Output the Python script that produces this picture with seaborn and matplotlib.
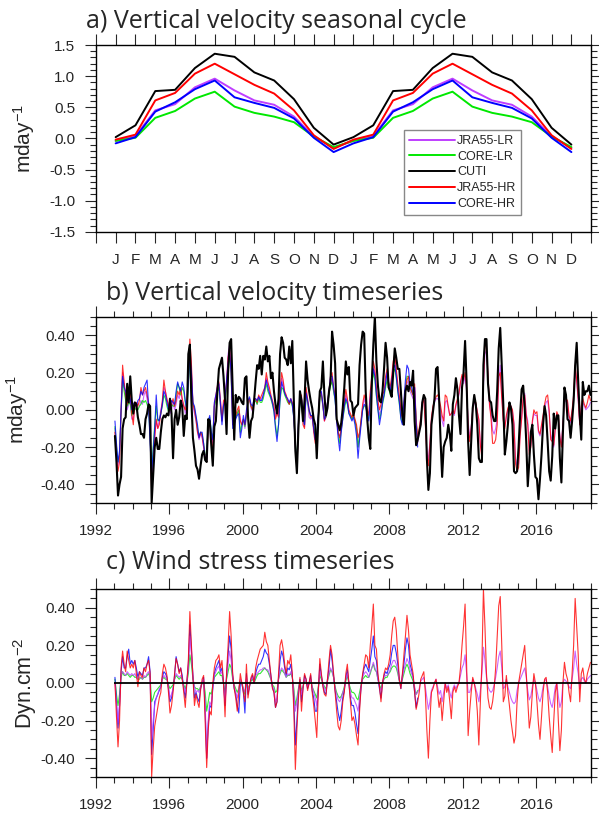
import numpy as np
import pandas as pd
import matplotlib
matplotlib.use("Agg")
import matplotlib.pyplot as plt
import seaborn as sns
from matplotlib.ticker import MultipleLocator, FixedLocator, FormatStrFormatter

# ------------------------------------------------------------------------------
# Style
# ------------------------------------------------------------------------------
sns.set_style("ticks")
plt.rcParams['font.family'] = ['Liberation Sans', 'DejaVu Sans']
plt.rcParams.update({
    'mathtext.fontset': 'custom',
    'mathtext.rm': 'Liberation Sans',
    'mathtext.it': 'Liberation Sans:italic',
    'mathtext.bf': 'Liberation Sans:bold',
    'xtick.direction': 'out', 'ytick.direction': 'out',
    'xtick.top': True, 'ytick.right': True,
    'xtick.major.size': 8, 'ytick.major.size': 8,
    'xtick.minor.size': 4, 'ytick.minor.size': 4,
    'xtick.major.width': 0.8, 'ytick.major.width': 0.8,
    'xtick.minor.width': 0.8, 'ytick.minor.width': 0.8,
    'xtick.major.pad': 7, 'ytick.major.pad': 7,
    'axes.linewidth': 1.0,
    'xtick.labelsize': 11, 'ytick.labelsize': 11,
})

# ------------------------------------------------------------------------------
# Data: a) seasonal cycle of vertical velocity (m/day), Jan..Dec
# ------------------------------------------------------------------------------
months = ['J', 'F', 'M', 'A', 'M', 'J', 'J', 'A', 'S', 'O', 'N', 'D']
clim_jra55_lr = [-0.04, 0.04, 0.45, 0.55, 0.82, 0.96, 0.77, 0.61, 0.54, 0.35, 0.03, -0.15]
clim_core_lr = [-0.04, 0.01, 0.33, 0.44, 0.64, 0.75, 0.51, 0.41, 0.35, 0.26, 0.03, -0.14]
clim_cuti = [0.02, 0.21, 0.76, 0.78, 1.13, 1.36, 1.31, 1.06, 0.93, 0.63, 0.17, -0.10]
clim_jra55_hr = [-0.02, 0.06, 0.61, 0.73, 1.04, 1.20, 1.03, 0.86, 0.72, 0.45, 0.05, -0.17]
clim_core_hr = [-0.08, 0.02, 0.43, 0.58, 0.79, 0.93, 0.66, 0.57, 0.49, 0.32, 0.01, -0.22]

# ------------------------------------------------------------------------------
# Data: b) monthly vertical velocity anomalies, Jan 1993 - Dec 2018
# (values in hundredths of m/day, one row per year; CORE runs stop mid-2009)
# ------------------------------------------------------------------------------
cuti_w = [
    -14, -28, -46, -40, -36, -10, -5, -4, 14, 4, 18, 5,  # 1993
    -2, 4, 3, -4, -8, -13, -13, -15, -5, -2, 3, 2,  # 1994
    -50, -35, -20, -15, -21, -21, -12, -5, -3, -4, -2, -3,  # 1995
    6, -2, -26, -5, 0, -8, -4, 5, 2, -14, -3, -5,  # 1996
    30, 35, 5, -15, -22, -30, -32, -37, -30, -24, -22, -27,  # 1997
    -28, -5, -6, -19, -30, -9, -6, 10, 22, 25, 28, 18,  # 1998
    5, -13, 20, 36, 38, 10, -16, 8, 4, 7, 6, 4,  # 1999
    3, 17, 18, -3, -15, -6, -4, 5, 15, 24, 22, 29,  # 2000
    19, 29, 27, 34, 26, 29, 17, 20, 10, 3, -2, 6,  # 2001
    30, 39, 36, 28, 27, 24, 34, 25, 37, 5, -22, -34,  # 2002
    -10, 10, 5, -6, 5, 26, 16, 10, 5, 1, -5, -8,  # 2003
    -26, -5, 10, 12, 26, 8, -3, 1, 10, 15, 42, 35,  # 2004
    25, -5, -8, -11, -7, 1, 12, 26, 19, 23, 5, 4,  # 2005
    -3, 1, 2, 3, 24, 35, 42, 41, 10, -5, -15, -21,  # 2006
    15, 35, 50, 26, 13, 5, 4, 10, 22, 36, 28, 12,  # 2007
    10, 7, 20, 33, 28, 22, 22, 10, -3, -8, 10, 13,  # 2008
    10, 15, 13, 21, -6, -19, -16, -12, -8, 4, 8, 6,  # 2009
    -26, -43, -34, -8, -1, 6, 22, 23, 6, -17, -36, -20,  # 2010
    -17, -15, -8, -13, -22, 3, 8, 17, 11, -3, -13, 12,  # 2011
    20, 37, 15, -17, -35, -17, 1, 8, 3, -8, -26, -28,  # 2012
    -28, 24, 38, 38, 14, 5, 4, -3, -6, -6, 10, 33,  # 2013
    44, 24, 3, -24, -17, -8, 4, 1, -8, -33, -34, -33,  # 2014
    -20, -3, 11, 13, 1, -17, -41, -28, -12, -8, -24, -36,  # 2015
    -37, -48, -37, -24, -8, 2, -3, -17, -33, -38, -25, -2,  # 2016
    -10, -3, -3, -26, -39, -12, 12, 8, -5, -6, -15, -6,  # 2017
    5, 24, 36, 15, -3, -16, 15, 8, 10, 10, 13, 8,  # 2018
]
jra55_hr_w = [
    -12, -25, -33, -28, 0, 24, 15, 8, 3, 6, 10, -2,
    -8, 3, 4, 2, 5, 12, 8, 10, 12, 8, 4, -10,
    -45, -30, -15, -5, -10, -8, -2, 5, 16, 10, 6, 2,
    0, 3, 6, 2, 5, 10, 8, 12, 6, 2, 0, 4,
    20, 38, 25, 3, 0, -5, -12, -15, -12, -14, -20, -25,
    -28, -10, -5, -18, -20, 3, 8, 13, 15, 5, -6, 5,
    6, 15, 28, 33, 20, -8, -5, -3, 0, 2, -6, -8,
    -5, -8, -2, 4, 6, 2, 0, 5, 6, 4, 8, 6,
    8, 10, 12, 20, 15, 12, 8, 5, 2, -5, -2, -4,
    10, 20, 16, 10, 8, 5, 3, 6, 4, -3, -20, -32,
    -8, 6, 8, -8, -10, 12, 6, 0, -4, -3, -12, -18,
    -16, -5, 10, 9, 3, -6, -3, 4, 10, 18, 20, 12,
    8, -5, -12, -15, -10, -3, 4, 11, 6, 0, -2, -4,
    -2, -5, -8, -15, -12, -5, 3, 8, 5, 0, -3, 10,
    18, 26, 22, 12, 5, 0, 3, 8, 10, 18, 22, 15,
    12, 18, 26, 30, 22, 14, 8, 0, -4, 4, 12, 16,
    18, 12, 10, 8, 14, -5, -15, -10, -4, 3, 6, -8,
    -24, -30, -18, -4, 2, 5, 7, 8, 6, 2, -3, -6,
    8, 7, 2, -3, -2, 0, -2, 3, 6, 9, 15, 19,
    16, 20, 12, -8, -17, -10, 0, 5, 4, -1, -5, -19,
    -26, 15, 35, 34, 18, 3, -5, -18, -18, -16, -8, 18,
    20, 6, -6, -10, -3, 1, 3, 2, 0, -8, -29, -33,
    -31, -14, -5, 7, 8, -3, -8, -24, -20, -6, 0, -2,
    -1, -11, -13, -8, -3, 3, 7, 8, 0, -16, -17, -19,
    -10, -1, -3, -15, -20, -8, 5, 6, 5, -3, -6, 0,
    8, 24, 16, 6, -8, 2, 6, 3, 1, 4, 8, 5,
]
jra55_lr_w = [
    -10, -22, -30, -25, -2, 20, 14, 6, 0, 3, 5, -5,
    -5, 2, 3, 0, 2, 5, 3, 8, 10, 6, 0, -12,
    -40, -28, -14, -6, -10, -5, 0, 4, 12, 10, 5, 3,
    -2, 0, 4, 0, 3, 8, 6, 10, 5, 3, -2, 2,
    18, 34, 22, 2, -2, -6, -12, -16, -13, -15, -20, -24,
    -26, -8, -5, -15, -18, 2, 6, 10, 12, 5, -5, 3,
    5, 14, 30, 35, 22, -6, -6, -4, -2, 0, -5, -8,
    -6, -10, -4, 3, 5, 1, -1, 4, 5, 3, 7, 5,
    6, 8, 10, 17, 14, 10, 6, 3, 1, -3, 0, -2,
    8, 17, 14, 9, 7, 5, 3, 5, 3, -3, -18, -30,
    -10, 5, 7, -6, -9, 10, 4, -4, -5, -4, -10, -16,
    -15, -4, 8, 8, 2, -6, -4, 3, 8, 15, 17, 10,
    6, -5, -13, -14, -10, -4, 2, 8, 5, -1, -3, -5,
    -3, -6, -10, -20, -14, -6, 1, 6, 3, -2, -4, 8,
    15, 23, 20, 10, 3, -3, 0, 5, 8, 15, 20, 14,
    10, 16, 24, 28, 20, 12, 6, -2, -6, 2, 10, 14,
    16, 10, 8, 6, 12, -6, -18, -12, -5, 4, 7, -6,
    -22, -27, -17, -5, 1, 4, 6, 6, 5, 0, -6, -9,
    4, 5, 1, -3, -2, -1, -3, 2, 5, 8, 14, 18,
    14, 18, 10, -6, -15, -9, 0, 4, 3, -1, -6, -18,
    -24, 13, 30, 32, 17, 2, -2, -11, -13, -10, -5, 15,
    24, 8, -5, -9, -4, 0, 2, 2, -1, -7, -26, -30,
    -29, -12, -4, 5, 9, -2, -6, -22, -19, -7, -2, -3,
    -3, -12, -14, -9, -4, 1, 4, 5, -2, -13, -17, -20,
    -10, -2, -4, -14, -19, -7, 4, 5, 4, -4, -7, -1,
    6, 22, 15, 5, -8, 1, 4, 2, 0, 1, 2, 4,
]
core_hr_w = [
    -6, -18, -28, -22, 0, 18, 12, 10, 5, 8, 6, 0,
    3, 4, 2, 5, 6, 10, 8, 12, 14, 16, 2, -18,
    -35, -22, -10, 8, -5, -6, -2, 3, 10, 8, 4, 0,
    2, 5, 4, 3, 10, 15, 12, 10, 15, 12, 5, 0,
    15, 28, 20, 4, 2, -3, -8, -15, -12, -12, -18, -26,
    -27, -6, -3, -12, -16, 4, 8, 12, 14, 3, -8, 2,
    6, 16, 25, 30, 20, -10, -8, -5, -3, -2, -15, -10,
    -3, -8, 0, 5, 7, 3, 2, 6, 6, 5, 7, 5,
    5, 8, 12, 16, 12, 9, 7, 4, -1, -10, -17, -8,
    6, 15, 12, 9, 7, 6, 4, 6, 3, -5, -20, -30,
    -6, 4, 6, -4, -8, 9, 5, 0, -3, -3, -10, -16,
    -14, -3, 9, 10, 3, -5, -3, 4, 10, 18, 18, 12,
    5, -6, -15, -22, -12, -5, 2, 6, 4, -2, -4, -6,
    -4, -8, -14, -26, -16, -8, 0, 3, 2, -3, -6, 6,
    14, 22, 18, 8, 0, -8, -3, 4, 8, 14, 20, 14,
    10, 15, 22, 24, 18, 10, 4, -5, -8, 5, 16, 24,
    22, 14, 12, 9, 12, -8, -20,
]
core_lr_w = [
    -9, -20, -28, -24, -2, 17, 10, 5, 2, 4, 3, -3,
    2, 0, 1, 0, 2, 3, 5, 4, 5, 3, 0, -15,
    -33, -20, -8, 2, -6, -5, -2, 2, 8, 6, 2, -1,
    0, 3, 2, 2, 8, 14, 12, 8, 12, 10, 4, -2,
    14, 26, 18, 3, 1, -4, -10, -14, -12, -13, -18, -24,
    -24, -6, -4, -12, -15, 2, 5, 10, 12, 2, -6, 2,
    4, 12, 24, 28, 18, -8, -6, -4, -2, 0, -12, -8,
    -5, -9, -3, 3, 6, 2, 0, 4, 5, 3, 6, 4,
    4, 6, 10, 14, 10, 8, 6, 3, -1, -8, -14, -8,
    5, 12, 11, 8, 6, 4, 3, 5, 2, -4, -18, -28,
    -8, 3, 5, -5, -8, 8, 4, -1, -3, -3, -10, -15,
    -13, -4, 7, 8, 2, -5, -4, 3, 8, 13, 15, 10,
    5, -5, -12, -18, -11, -5, 0, 5, 3, -2, -3, -5,
    -3, -6, -10, -20, -13, -6, 0, 2, 2, -2, -5, 5,
    12, 20, 16, 7, 0, -5, -2, 3, 7, 12, 16, 12,
    8, 14, 20, 22, 17, 10, 3, -4, -7, 3, 12, 18,
    18, 12, 10, 8, 10, -6, -17,
]

# ------------------------------------------------------------------------------
# Data: c) monthly wind stress anomalies (hundredths of dyn/cm2)
# ------------------------------------------------------------------------------
jra55_hr_tau = [
    0, -18, -34, -20, 8, 17, 10, 6, 17, 12, 8, 10,
    8, 12, 5, -2, 6, 4, 3, 8, 6, 10, 12, 5,
    -50, -35, -23, -18, -13, -8, -5, 5, 10, 8, 4, -5,
    -16, -12, -5, 5, 13, 10, 5, 8, 2, -5, -13, 0,
    12, 38, 20, 3, -12, -6, -10, -13, -4, 2, 4, -20,
    -45, -25, -15, -17, 0, 8, 12, 13, 15, 8, 12, 0,
    -18, 5, 20, 38, 25, 5, -3, -8, -15, -5, 5, 0,
    -5, -10, 10, -8, -2, 3, 5, 0, 8, 12, 15, 18,
    19, 20, 27, 22, 20, 12, 4, -3, -5, -13, -10, 5,
    20, 23, 18, 10, 5, 12, 10, 15, 5, -15, -46, -25,
    -8, 3, -15, -3, 5, 2, -4, 0, 5, -5, -12, -20,
    -29, -5, 13, 5, -2, -6, -7, 2, 12, 20, 15, 5,
    -5, -15, -23, -25, -20, -10, -5, 5, 10, 0, -10, -20,
    -18, -22, -28, -33, -15, -2, 5, 10, 15, 14, 8, 20,
    30, 42, 20, 18, 5, -2, -10, 0, 5, 8, 7, 10,
    15, 25, 33, 35, 28, 15, 2, -3, 5, 15, 25, 36,
    28, 15, 10, 5, -5, -14, -10, -5, 2, 4, 6, -5,
    -25, -40, -20, -5, -3, 0, 2, -5, -13, -8, -20, -10,
    0, -5, -2, -10, -19, -5, -2, -5, -2, 0, 8, 20,
    30, 42, 10, -28, -15, -5, 3, 0, -5, -15, -33, -10,
    10, 50, 30, 5, -8, -13, -14, -10, -3, 8, 25, 41,
    46, 20, -10, -7, 4, -5, -12, -20, -26, -32, -28, -10,
    0, 5, 10, 15, 20, 5, -10, -24, -18, -5, 5, 0,
    -10, -22, -30, -18, -5, 2, 3, -5, -18, -28, -37, -20,
    -5, 0, -20, -36, -25, 0, 11, 5, 2, -5, -10, 5,
    20, 45, 30, 15, -10, 5, 8, 2, 0, 5, 8, 11,
]
jra55_lr_tau = [
    0, -12, -21, -12, 4, 6, 5, 4, 6, 5, 4, 5,
    4, 5, 3, 2, 3, 3, 2, 4, 3, 5, 6, 3,
    -30, -20, -12, -8, -6, -3, -2, 2, 4, 3, 2, -2,
    -8, -6, -3, 2, 5, 4, 3, 4, 2, -2, -5, 0,
    8, 25, 15, 3, -2, -5, -4, -5, -2, 0, 2, -10,
    -40, -20, -10, -12, -2, 4, 6, 8, 9, 5, 6, 0,
    -10, 3, 10, 17, 12, 3, -2, -5, -8, -3, 2, 0,
    -3, -5, 3, -4, -1, 2, 3, 0, 4, 5, 6, 7,
    7, 8, 8, 7, 7, 5, 2, -2, -3, -10, -8, 2,
    6, 8, 7, 5, 3, 5, 4, 6, 3, -5, -15, -10,
    -4, 1, -6, -2, 2, 1, -2, 0, 2, -2, -5, -8,
    -12, -3, 6, 3, 0, -3, -4, 1, 5, 8, 6, 3,
    -3, -6, -9, -10, -8, -5, -3, 2, 5, 0, -5, -8,
    -8, -10, -12, -15, -8, -2, 3, 5, 6, 5, 3, 6,
    8, 11, 8, 6, 2, -2, -4, 0, 3, 4, 4, 5,
    7, 10, 12, 12, 10, 6, 1, -1, 3, 7, 10, 13,
    11, 7, 5, 3, -2, -6, -5, -3, 1, 2, 3, -2,
    -8, -14, -10, -4, -2, 0, 2, -2, -6, -4, -10, -5,
    0, -3, -1, -5, -8, -3, -1, -3, -1, 0, 4, 8,
    10, 15, 5, -5, -5, -2, 2, 0, -3, -6, -10, -4,
    5, 19, 12, 3, -2, -4, -5, -4, -1, 3, 8, 14,
    17, 8, -3, -2, 2, -2, -5, -8, -10, -11, -10, -4,
    0, 2, 4, 6, 8, 3, -4, -9, -7, -2, 2, 0,
    -4, -8, -10, -7, -2, 1, 2, -2, -7, -11, -13, -8,
    -2, 0, -7, -13, -10, 0, 2, 1, 0, -2, -3, 2,
    8, 17, 10, 5, -3, 2, 3, 1, 0, 2, 3, 4,
]
core_hr_tau = [
    3, -10, -24, -12, 6, 14, 8, 8, 14, 18, 10, 12,
    10, 12, 8, 3, 6, 5, 4, 8, 8, 10, 14, 6,
    -38, -25, -10, -8, -6, -4, -2, 3, 6, 5, 3, -3,
    -10, -8, -3, 4, 14, 10, 6, 8, 4, -3, -8, 0,
    10, 31, 18, 4, -8, -5, -8, -10, -3, 0, 3, -15,
    -40, -22, -12, -13, -3, 5, 8, 10, 12, 6, 8, 0,
    -12, 4, 15, 25, 18, 4, -3, -6, -12, -16, 0, 0,
    -5, -16, 5, -6, -2, 2, 4, 0, 5, 8, 10, 10,
    12, 14, 18, 16, 15, 10, 4, -2, -5, -13, -10, 3,
    12, 17, 14, 8, 4, 8, 7, 10, 4, -10, -33, -20,
    -6, 2, -10, -3, 4, 2, -3, 0, 4, -4, -8, -15,
    -15, -4, 10, 4, -1, -5, -6, 2, 8, 18, 12, 4,
    -4, -10, -16, -20, -15, -8, -4, 3, 7, 0, -8, -12,
    -12, -16, -22, -27, -12, -2, 4, 8, 10, 8, 6, 12,
    18, 25, 14, 12, 3, -3, -8, 0, 4, 6, 5, 8,
    10, 16, 20, 20, 16, 10, 2, -3, 4, 10, 18, 24,
    20, 10, 7, 3, -5, -13, -8,
]
core_lr_tau = [
    2, -6, -12, -6, 3, 6, 4, 4, 5, 4, 3, 4,
    4, 3, 3, 2, 2, 3, 2, 3, 3, 4, 5, 3,
    -10, -8, -5, -4, -3, -2, -1, 2, 3, 2, 2, -1,
    -3, -2, -1, 2, 4, 3, 2, 3, 2, -1, -3, 0,
    5, 15, 10, 2, -2, -3, -3, -4, -2, 0, 1, -5,
    -15, -10, -5, -6, -1, 3, 4, 5, 6, 4, 4, 0,
    -5, 2, 6, 10, 8, 2, -1, -3, -5, -3, 1, 0,
    -3, -6, 2, -3, -1, 1, 2, 0, 2, 4, 5, 5,
    6, 7, 8, 7, 6, 4, 2, -1, -2, -5, -4, 2,
    5, 7, 6, 5, 3, 4, 4, 5, 3, -3, -12, -8,
    -3, 1, -4, -2, 1, 1, -1, 0, 2, -2, -4, -6,
    -8, -2, 4, 2, 0, -2, -3, 1, 4, 7, 6, 3,
    -2, -5, -7, -8, -7, -5, -2, 1, 4, 0, -3, -5,
    -5, -6, -8, -9, -5, -1, 2, 3, 4, 3, 3, 5,
    8, 10, 7, 6, 2, -1, -3, 0, 2, 3, 3, 5,
    6, 8, 9, 9, 8, 5, 1, -1, 2, 5, 8, 10,
    8, 5, 3, 1, -3, -6, -4,
]

start_year = 1993

# colours / names
names = ['JRA55-LR', 'CORE-LR', 'CUTI', 'JRA55-HR', 'CORE-HR']
colors = {'JRA55-LR': '#BF3EFF', 'CORE-LR': '#00E800', 'CUTI': 'black',
          'JRA55-HR': '#FF0000', 'CORE-HR': '#0000FF'}


def monthly_time(values):
    n = len(values)
    return start_year + (np.arange(n) + 0.5) / 12.0


def to_units(values):
    return np.array(values, dtype=float) / 100.0


# ------------------------------------------------------------------------------
# Figure
# ------------------------------------------------------------------------------
fig = plt.figure(figsize=(5.99, 8.14), dpi=100)
ax_a = fig.add_axes([0.160, 0.7153, 0.827, 0.2294])
ax_b = fig.add_axes([0.160, 0.3821, 0.827, 0.2288])
ax_c = fig.add_axes([0.160, 0.0455, 0.827, 0.2309])

title_font = dict(family=['Open Sans', 'DejaVu Sans'], fontsize=18)
fig.text(0.1436, 0.9656, 'a) Vertical velocity seasonal cycle', va='baseline', **title_font)
fig.text(0.177, 0.6310, 'b) Vertical velocity timeseries', va='baseline', **title_font)
fig.text(0.177, 0.3018, 'c) Wind stress timeseries', va='baseline', **title_font)

# ---- a) seasonal cycle ----
clim = {'JRA55-LR': clim_jra55_lr, 'CORE-LR': clim_core_lr, 'CUTI': clim_cuti,
        'JRA55-HR': clim_jra55_hr, 'CORE-HR': clim_core_hr}
month_pos = np.arange(1, 25)
for name in names:
    vals = np.tile(clim[name], 2)
    sns.lineplot(x=month_pos, y=vals, ax=ax_a, color=colors[name], lw=1.4,
                 label=name, estimator=None, errorbar=None)

ax_a.set_xlim(0, 25)
ax_a.set_ylim(-1.5, 1.5)
ax_a.set_xticks(np.arange(0, 26))
ax_a.set_xticklabels([''] + months * 2 + [''])
ax_a.yaxis.set_major_locator(MultipleLocator(0.5))
ax_a.yaxis.set_minor_locator(MultipleLocator(0.1))
ax_a.yaxis.set_major_formatter(FormatStrFormatter('%.1f'))
ax_a.set_ylabel('mday$^{-1}$', fontsize=15)
ax_a.yaxis.set_label_coords(-0.119, 0.5)
leg = ax_a.legend(loc='upper left', bbox_to_anchor=(0.622, 0.545), fontsize=9,
                  frameon=True, fancybox=False, edgecolor='#888888', framealpha=1,
                  handlelength=3.7, handletextpad=0.15, labelspacing=0.3,
                  borderpad=0.4, borderaxespad=0)
leg.get_frame().set_linewidth(1.0)

# ---- b) vertical velocity timeseries ----
series_b = [('JRA55-LR', jra55_lr_w, 0.8), ('CORE-LR', core_lr_w, 0.8),
            ('JRA55-HR', jra55_hr_w, 0.8), ('CORE-HR', core_hr_w, 0.8),
            ('CUTI', cuti_w, 1.5)]
for name, vals, lw in series_b:
    sns.lineplot(x=monthly_time(vals), y=to_units(vals), ax=ax_b, color=colors[name],
                 lw=lw, alpha=0.8 if name != 'CUTI' else 1.0,
                 estimator=None, errorbar=None)
ax_b.set_ylabel('mday$^{-1}$', fontsize=15)
ax_b.yaxis.set_label_coords(-0.133, 0.5)

# ---- c) wind stress timeseries ----
series_c = [('CORE-LR', core_lr_tau), ('CORE-HR', core_hr_tau),
            ('JRA55-LR', jra55_lr_tau), ('JRA55-HR', jra55_hr_tau)]
for name, vals in series_c:
    sns.lineplot(x=monthly_time(vals), y=to_units(vals), ax=ax_c, color=colors[name],
                 lw=0.8, alpha=0.8, estimator=None, errorbar=None)
t_full = monthly_time(jra55_hr_tau)
ax_c.hlines(0, t_full[0] - 0.04, t_full[-1] + 0.04, color='black', lw=1.3)
ax_c.set_ylabel('Dyn.cm$^{-2}$', fontsize=15.5)
ax_c.yaxis.set_label_coords(-0.115, 0.5)

for ax in (ax_b, ax_c):
    ax.set_xlim(1992, 2019)
    ax.set_ylim(-0.5, 0.5)
    ax.xaxis.set_major_locator(MultipleLocator(4))
    ax.xaxis.set_minor_locator(MultipleLocator(1))
    ax.yaxis.set_major_locator(FixedLocator([-0.4, -0.2, 0.0, 0.2, 0.4]))
    ax.yaxis.set_minor_locator(MultipleLocator(0.05))
    ax.yaxis.set_major_formatter(FormatStrFormatter('%.2f'))

for ax in (ax_a, ax_b, ax_c):
    ax.set_xlabel('')
    ax.tick_params(which='both', top=True, right=True, direction='out')
    for s in ax.spines.values():
        s.set_visible(True)
        s.set_color('black')

fig.savefig('out.png', dpi=100)
